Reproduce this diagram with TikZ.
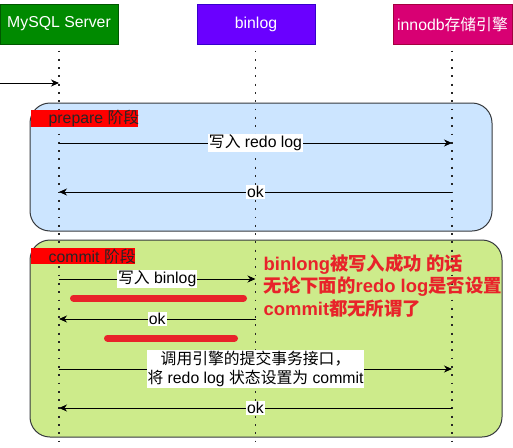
\documentclass[tikz,border=0pt]{standalone}
\usepackage{fontspec}
\setmainfont{Liberation Sans}
\newfontfamily\cjk{Noto Sans CJK SC}
\usetikzlibrary{arrows.meta}
\definecolor{hgreen}{HTML}{008A00}
\definecolor{hgreenD}{HTML}{005700}
\definecolor{hviolet}{HTML}{6A00FF}
\definecolor{hvioletD}{HTML}{3700CC}
\definecolor{hpink}{HTML}{D80073}
\definecolor{hpinkD}{HTML}{A50040}
\definecolor{pblue}{HTML}{CCE5FF}
\definecolor{cgreen}{HTML}{CDEB8B}
\definecolor{boxline}{HTML}{36393D}
\definecolor{annred}{HTML}{E8232A}
\newcommand\fsz{\fontsize{15.8pt}{18pt}\selectfont}
\tikzset{
  hdr/.style={minimum width=118pt, minimum height=40pt, inner sep=0pt, text=white, font=\fsz, line width=1pt},
  phase/.style={draw=boxline, line width=1pt, rounded corners=20pt, inner sep=0pt},
  tagbox/.style={fill=red, inner sep=0pt, minimum width=107pt, minimum height=17pt},
  tagtext/.style={anchor=west, inner sep=0pt, font=\fsz, text=black!85},
  lifeline/.style={line width=1.8pt, dash pattern=on 1.8pt off 6.5pt, dash phase=1.8pt, black!85},
  msg/.style={line width=0.9pt, -{Stealth[length=8pt,width=7pt,inset=2.5pt]}},
  lbl/.style={fill=white, inner sep=1pt, font=\fsz, text=black},
  redbar/.style={line width=7pt, line cap=round, draw=annred},
}
\begin{document}
\begin{tikzpicture}[x=1pt,y=-1pt]
\useasboundingbox (0,0) rectangle (513,447);
% phase boxes
\node[phase, fill=pblue, minimum width=462pt, minimum height=128pt] (prep) at (261,167) {};
\node[phase, fill=cgreen, minimum width=472pt, minimum height=197pt] (comm) at (266,338.5) {};
% headers
\node[hdr, fill=hgreen, draw=hgreenD] (ms) at (59,24) {MySQL Server};
\node[hdr, fill=hviolet, draw=hvioletD] (bl) at (256,24) {binlog};
\node[hdr, fill=hpink, draw=hpinkD, minimum width=119pt] (ib) at (452.5,24) {innodb{\cjk 存储引擎}};
% lifeline ends
\coordinate (msE) at (59,447);
\coordinate (blE) at (255.5,447);
\coordinate (ibE) at (452,447);
\coordinate (msS) at (59,44);
\coordinate (blS) at (255.5,44);
\coordinate (ibS) at (452,44);
\draw[lifeline] (msS) -- (msE);
\draw[lifeline] (blS) -- (blE);
\draw[lifeline] (ibS) -- (ibE);
% phase tags
\node[tagbox] (ptag) at (84.5,118.5) {};
\node[tagtext] (ptxt) at (48.5,118.5) {prepare {\cjk 阶段}};
\node[tagbox, minimum width=104pt, minimum height=16pt] (ctag) at (83,256) {};
\node[tagtext] (ctxt) at (48.5,256) {commit {\cjk 阶段}};
% incoming
\coordinate (in0) at (0,83);
\coordinate (in1) at (59,83);
\draw[msg] (in0) -- (in1);
% prepare messages
\coordinate (p1a) at (59,143);
\coordinate (p1b) at (452,143);
\draw[msg] (p1a) -- node[lbl] (p1l) {{\cjk 写入} redo log} (p1b);
\coordinate (p2a) at (452,192);
\coordinate (p2b) at (59,192);
\draw[msg] (p2a) -- node[lbl] (p2l) {ok} (p2b);
% commit messages
\coordinate (c1a) at (59,279);
\coordinate (c1b) at (255.5,279);
\draw[msg] (c1a) -- node[lbl] (c1l) {{\cjk 写入} binlog} (c1b);
\coordinate (c2a) at (255.5,319);
\coordinate (c2b) at (59,319);
\draw[msg] (c2a) -- node[lbl] (c2l) {ok} (c2b);
\coordinate (c3a) at (59,369);
\coordinate (c3b) at (452,369);
\draw[msg] (c3a) -- node[lbl, align=center, font=\fontsize{15.8pt}{19pt}\selectfont] (c3l) {{\cjk 调用引擎的提交事务接口，}\\{\cjk 将} redo log {\cjk 状态设置为} commit} (c3b);
\coordinate (c4a) at (452,408);
\coordinate (c4b) at (59,408);
\draw[msg] (c4a) -- node[lbl] (c4l) {ok} (c4b);
% red bars
\coordinate (r1a) at (73.5,298);
\coordinate (r1b) at (243.5,298);
\draw[redbar] (r1a) -- (r1b);
\coordinate (r2a) at (107.5,338);
\coordinate (r2b) at (234.5,338);
\draw[redbar] (r2a) -- (r2b);
% annotation
\node[anchor=west, inner sep=0pt, align=left, text=annred, font=\fontsize{18.4pt}{22.5pt}\selectfont\bfseries] (ann) at (263.5,285.5)
  {binlong{\cjk\bfseries 被写入成功 的话}\\{\cjk\bfseries 无论下面的}redo log{\cjk\bfseries 是否设置}\\commit{\cjk\bfseries 都无所谓了}};
\end{tikzpicture}
\end{document}
